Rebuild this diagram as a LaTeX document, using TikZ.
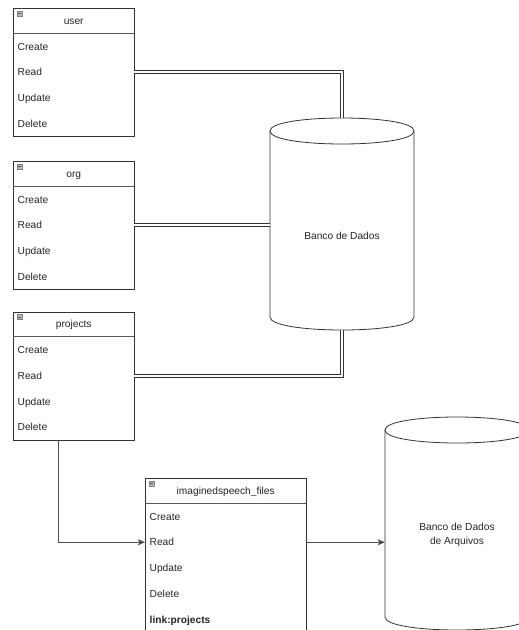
\documentclass[tikz,border=0pt]{standalone}
\usepackage{fontspec}
\setmainfont{Liberation Sans}
\usetikzlibrary{arrows.meta,calc}

\tikzset{
  x=1pt, y=-1pt,
  txt/.style={font=\fontsize{10.2}{13.7}\selectfont, text=black!85},
  frame/.style={draw=black!80, line width=0.8pt, fill=white, inner sep=0pt, anchor=north west},
  header/.style={txt, inner sep=0pt, minimum height=25pt, text height=7.5pt, text depth=0pt, anchor=north west},
  sepline/.style={draw=black!65, line width=1.1pt},
  rowcell/.style={txt, inner xsep=4.5pt, inner ysep=0pt, minimum height=25.75pt,
    text height=7.5pt, text depth=0pt, align=left, anchor=north west},
  icon/.style={draw=black!50, fill=black!28, line width=0.4pt},
  cyl/.style={draw=black!80, line width=0.8pt, fill=white},
  area/.style={inner sep=0pt, draw=none},
  link/.style={draw=black!80, line width=1pt, double=white, double distance=2.2pt},
  flow/.style={draw=black!70, line width=0.9pt, -{Stealth[length=7pt, width=6pt, inset=1.5pt]}}
}

% collapse marker in the top-left corner of an entity header
\newcommand{\collapsemark}[1]{%
  \draw[icon] ($(#1.north west)+(4,3)$) rectangle ++(5,5);
  \draw[black!65, line width=0.5pt] ($(#1.north west)+(5,5.5)$) -- ++(3,0);
}

\begin{document}
\begin{tikzpicture}
\useasboundingbox (0,0) rectangle (519,630);
\clip (0,0) rectangle (519,630);

% ---- database cylinders ----
\node[area, minimum width=144pt, minimum height=212pt] (db1) at (342,224) {};
\filldraw[cyl] (270,131) -- (270,317) .. controls (270,334.33) and (414,334.33) .. (414,317)
  -- (414,131) .. controls (414,113.67) and (270,113.67) .. (270,131) -- cycle;
\draw[cyl] (270,131) .. controls (270,148.33) and (414,148.33) .. (414,131);
\node[txt] (db1-label) at (342,236) {Banco de Dados};

\node[area, minimum width=144pt, minimum height=213pt] (db2) at (457,523.5) {};
\filldraw[cyl] (385,430) -- (385,617) .. controls (385,634.33) and (529,634.33) .. (529,617)
  -- (529,430) .. controls (529,412.67) and (385,412.67) .. (385,430) -- cycle;
\draw[cyl] (385,430) .. controls (385,447.33) and (529,447.33) .. (529,430);
\node[txt, align=center] (db2-label) at (457,535) {Banco de Dados\\de Arquivos};

% ---- CRUD entities ----
\foreach \n/\x/\y/\t in {user/13/8/user, org/13/161/org, projects/13/311.5/projects} {
  \node[frame, minimum width=121pt, minimum height=128pt] (\n) at (\x,\y) {};
  \node[header, minimum width=121pt] (\n-head) at (\x,\y) {\t};
  \draw[sepline] (\n-head.south west) -- (\n-head.south east);
  \collapsemark{\n}
  \foreach \r [count=\i] in {Create,Read,Update,Delete}
    \node[rowcell, text width=112pt] (\n-r\i) at ($(\n-head.south west)+(0,{(\i-1)*25.75})$) {\r};
}

\node[frame, minimum width=161pt, minimum height=153.75pt] (imag) at (145,478) {};
\node[header, minimum width=161pt] (imag-head) at (145,478) {imaginedspeech\_files};
\draw[sepline] (imag-head.south west) -- (imag-head.south east);
\collapsemark{imag}
\foreach \r [count=\i] in {Create,Read,Update,Delete,\textbf{link:projects}}
  \node[rowcell, text width=152pt] (imag-r\i) at ($(imag-head.south west)+(0,{(\i-1)*25.75})$) {\r};

% ---- connectors ----
\draw[link] (user-r2.east) -| (db1.north);
\draw[link] (org-r2.east) -- (org-r2.east -| db1.west);
\draw[link] (projects-r2.east) -| (db1.south);

\coordinate (projects-tail) at ($(projects.south west)+(45,0)$);
\draw[flow] (projects-tail) |- (imag-r2.west);
\draw[flow] (imag-r2.east) -- (imag-r2.east -| db2.west);
\end{tikzpicture}
\end{document}
